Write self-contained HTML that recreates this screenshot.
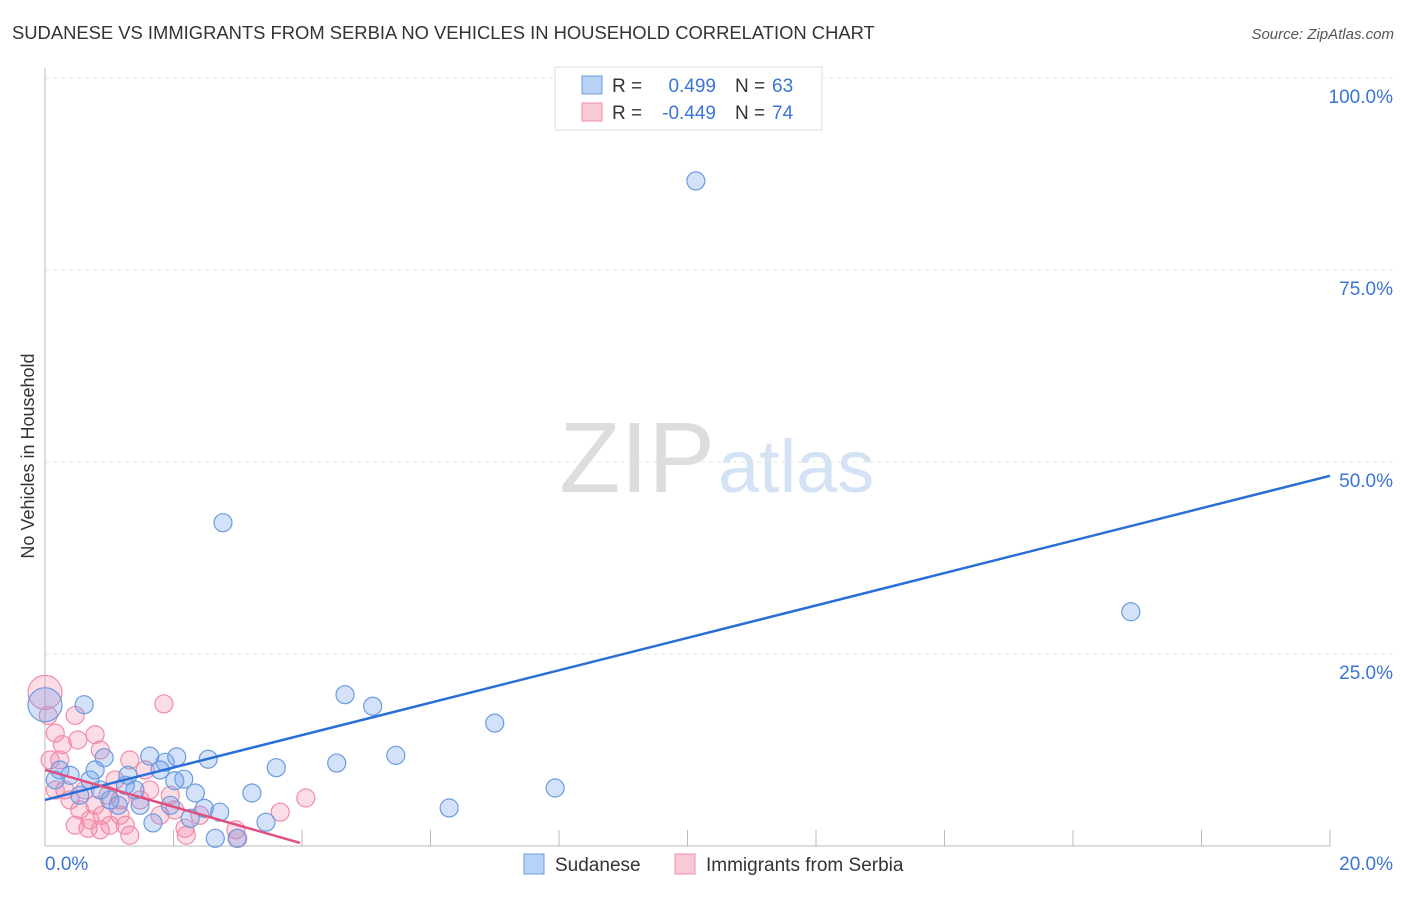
<!DOCTYPE html>
<html><head><meta charset="utf-8"><style>
body{margin:0;background:#fff;font-family:"Liberation Sans",sans-serif}
svg text{font-family:"Liberation Sans",sans-serif}
</style></head><body>
<svg id="c" width="1406" height="892">
<text x="12" y="39" font-size="18.4" fill="#333">SUDANESE VS IMMIGRANTS FROM SERBIA NO VEHICLES IN HOUSEHOLD CORRELATION CHART</text>
<text x="1394" y="39" font-size="15" fill="#555" text-anchor="end" font-style="italic">Source: ZipAtlas.com</text>
<text x="715" y="492" font-size="100" fill="#ddd" text-anchor="end" font-family="Liberation Serif">ZIP</text>
<text x="718" y="492" font-size="74" fill="#d3e2f5">atlas</text>
<text transform="translate(34,456) rotate(-90)" font-size="18" fill="#333" text-anchor="middle">No Vehicles in Household</text>
<g id="grid"></g><g id="pts"></g><g id="lines"></g>
<g>
<rect x="555" y="67" width="267" height="63" fill="#fff" stroke="#ddd"/>
<rect x="582" y="76" width="20" height="18" fill="#b8d2f5" stroke="#6b9be0"/>
<rect x="582" y="103" width="20" height="18" fill="#fbc8d6" stroke="#f08cab"/>
<text x="612" y="92" font-size="19" fill="#333">R =</text>
<text x="716" y="92" font-size="19" fill="#3b74d4" text-anchor="end">0.499</text>
<text x="735" y="92" font-size="19" fill="#333">N =</text>
<text x="772" y="92" font-size="19" fill="#3b74d4">63</text>
<text x="612" y="119" font-size="19" fill="#333">R =</text>
<text x="716" y="119" font-size="19" fill="#3b74d4" text-anchor="end">-0.449</text>
<text x="735" y="119" font-size="19" fill="#333">N =</text>
<text x="772" y="119" font-size="19" fill="#3b74d4">74</text>
</g>
<g>
<rect x="524" y="854" width="20" height="20" fill="#b8d2f5" stroke="#6b9be0"/>
<text x="555" y="871" font-size="19" fill="#333">Sudanese</text>
<rect x="675" y="854" width="20" height="20" fill="#fbc8d6" stroke="#f08cab"/>
<text x="706" y="871" font-size="19" fill="#333">Immigrants from Serbia</text>
</g>
</svg>
<script>
const yTicks=[25,50,75,100];
const yTickLabels=["25.0%","50.0%","75.0%","100.0%"];
const xTicks=[2,4,6,8,10,12,14,16,18,20];
const blueX=[10.13,2.77,16.9,4.67,5.1,7.0,5.46,4.54,7.94,6.29,3.6,3.22,3.44,2.99,2.65,2.54,2.05,1.63,1.87,1.79,2.16,2.34,2.48,2.72,2.26,1.68,1.95,0.61,0.92,1.29,1.40,1.01,0.70,0.39,0.23,0.78,1.14,0.86,0.54,1.48,1.25,0.16,2.02];
const blueY=[86.6,42.1,30.5,19.7,18.2,16.0,11.8,10.8,7.55,4.95,10.2,6.9,3.1,1.0,1.0,11.3,11.6,11.7,10.9,9.9,8.7,6.9,4.9,4.4,3.6,3.0,5.3,18.4,11.5,9.2,7.3,6.0,8.6,9.2,9.9,9.9,5.3,7.3,6.6,5.3,7.9,8.6,8.5];
const pinkX=[1.85,0.05,0.47,0.16,0.27,0.78,0.86,0.51,1.32,4.06,3.66,2.97,3.0,2.18,2.2,1.95,2.02,1.79,1.48,1.17,1.01,0.86,0.70,0.54,0.39,0.31,0.16,1.32,1.25,1.63,1.56,1.09,0.98,0.78,0.62,0.47,0.89,0.67,1.17,0.23,0.08,2.41];
const pinkY=[18.5,17,17,14.7,13.2,14.5,12.5,13.8,11.2,6.25,4.4,2.1,1.0,2.3,1.4,6.6,4.7,4.0,6.0,4.0,2.7,2.1,3.4,4.7,6.0,7.3,7.3,1.4,2.7,7.3,9.9,8.6,6.6,5.3,7.3,2.7,4.0,2.3,6.0,11.2,11.2,4.0];
const bigBlue=[[0,18.4]], bigPink=[[0,20]];
const blueLine=[[0,6.0],[20,48.2]], pinkLine=[[0,9.9],[3.97,0.4]];
const X=v=>45+v*64.25, Y=v=>846-v*7.68;
const NS="http://www.w3.org/2000/svg";
function mk(t,a,p){const e=document.createElementNS(NS,t);for(const k in a)e.setAttribute(k,a[k]);p.appendChild(e);return e;}
const g=document.getElementById('grid');
yTicks.forEach((t,i)=>{
 const l=mk('line',{x1:45,x2:1394,y1:Y(t),y2:Y(t),stroke:'#e4e4e4','stroke-dasharray':'4,4'},g);
 
 
 const tx=mk('text',{x:1393,y:Y(t)+25,'font-size':19,fill:'#3b74d4','text-anchor':'end'},g);
 tx.textContent=yTickLabels[i];
 
 
});
const ax=mk('line',{x1:45,x2:45,y1:68,y2:846,stroke:'#bbb'},g);


const bx=mk('line',{x1:45,x2:1330,y1:846,y2:846,stroke:'#bbb'},g);


xTicks.forEach(t=>{
 const l=mk('line',{x1:X(t),x2:X(t),y1:830,y2:846,stroke:'#bbb'},g);
 
 
});
[[0,"0.0%","start",45],[20,"20.0%","end",1393]].forEach(d=>{
 const tx=mk('text',{x:d[3],y:870,'font-size':19,fill:'#3b74d4','text-anchor':d[2]},g);
 tx.textContent=d[1];
 
 
});
const p=document.getElementById('pts');
function dot(x,y,r,blue){
 const c=mk('circle',{cx:X(x),cy:Y(y),r:r,fill:blue?'rgba(110,160,235,0.3)':'rgba(245,140,170,0.3)',stroke:blue?'#6b9be0':'#f08cab','stroke-width':1.2},p);
 
 
}
pinkX.forEach((x,i)=>dot(x,pinkY[i],9,false));
bigPink.forEach(d=>dot(d[0],d[1],17,false));
blueX.forEach((x,i)=>dot(x,blueY[i],9,true));
bigBlue.forEach(d=>dot(d[0],d[1],17,true));
const L=document.getElementById('lines');
const b=mk('line',{x1:X(blueLine[0][0]),y1:Y(blueLine[0][1]),x2:X(blueLine[1][0]),y2:Y(blueLine[1][1]),stroke:'#2a6fd6','stroke-width':2.5},L);


const pl=mk('line',{x1:X(pinkLine[0][0]),y1:Y(pinkLine[0][1]),x2:X(pinkLine[1][0]),y2:Y(pinkLine[1][1]),stroke:'#e0507e','stroke-width':2.5},L);


</script>
</body></html>
